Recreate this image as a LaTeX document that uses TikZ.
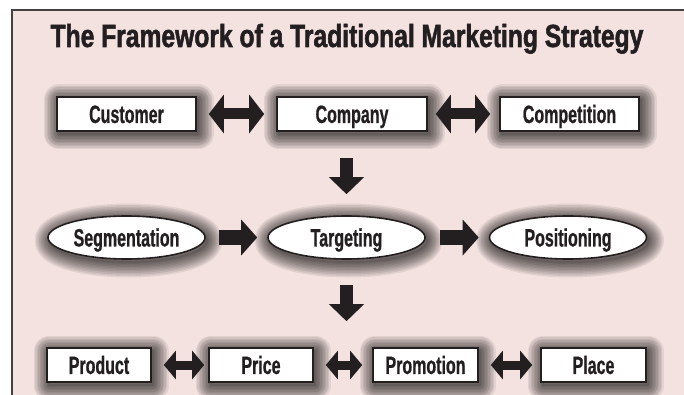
\documentclass[tikz,border=0pt]{standalone}
\usepackage{fontspec}
\setmainfont{Liberation Sans}
% condensed heavy sans for the title and the labels
\newfontfamily\titlefont[FakeStretch=0.77,FakeBold=1.6]{Liberation Sans}
\newfontfamily\labelfont[FakeStretch=0.64,FakeBold=0.8]{Liberation Sans}
\usetikzlibrary{shapes.geometric, arrows.meta}

\definecolor{bgpink}{RGB}{244,226,224}
\definecolor{ink}{RGB}{35,31,32}

\tikzset{
  % soft dark halo built from stacked translucent strokes
  halo/.style={preaction={draw=black, draw opacity=0.075, line width=#1,
      line join=round, transform canvas={xshift=2pt, yshift=-3pt}}},
  glow/.style={halo=31pt, halo=28pt, halo=25pt, halo=22pt, halo=19pt,
      halo=16pt, halo=13pt, halo=10pt, halo=7pt, halo=4pt, halo=2pt},
  labeltext/.style={font=\labelfont\bfseries\fontsize{25}{25}\selectfont,
      text=ink, text height=17.9pt, text depth=0pt, inner sep=0pt},
  factorbox/.style={rectangle, glow, draw=ink, line width=1.6pt, fill=white,
      minimum height=34pt, labeltext},
  stageoval/.style={ellipse, glow, draw=ink, line width=1.6pt, fill=white,
      minimum width=157pt, minimum height=43pt, labeltext},
  bigtwoway/.style={draw=ink, line width=11pt,
      {Triangle[width=38pt,length=15pt]}-{Triangle[width=38pt,length=15pt]}},
  smalltwoway/.style={draw=ink, line width=9pt,
      {Triangle[width=28pt,length=12pt]}-{Triangle[width=28pt,length=12pt]}},
  sideflow/.style={draw=ink, line width=15pt,
      -{Triangle[width=35pt,length=16pt]}},
  downflow/.style={draw=ink, line width=13pt,
      -{Triangle[width=34pt,length=17pt]}},
}

\begin{document}
\begin{tikzpicture}[x=1pt, y=-1pt]
  \useasboundingbox (0,0) rectangle (684,395);

  % page and framed panel
  \fill[white] (0,0) rectangle (684,395);
  \fill[bgpink] (12,10) rectangle (684,395);
  \draw[ink!85, line width=1.2pt] (12,395) -- (12,10) -- (684,10);

  % title
  \node[anchor=base, inner sep=0pt, text=ink,
        font=\titlefont\bfseries\fontsize{32}{32}\selectfont]
        (title) at (347,47) {The Framework of a Traditional Marketing Strategy};

  % the three Cs
  \node[factorbox, minimum width=139pt] (customer)    at (126.5,114) {Customer};
  \node[factorbox, minimum width=150pt] (company)     at (352,114)   {Company};
  \node[factorbox, minimum width=139pt] (competition) at (569.5,114) {Competition};

  % segmentation, targeting, positioning
  \node[stageoval] (segmentation) at (126.5,237.5) {Segmentation};
  \node[stageoval] (targeting)    at (346.5,237.5) {Targeting};
  \node[stageoval] (positioning)  at (568,237.5)   {Positioning};

  % the four Ps
  \node[factorbox, minimum width=104pt] (product)   at (99,365)    {Product};
  \node[factorbox, minimum width=104pt] (price)     at (261,365)   {Price};
  \node[factorbox, minimum width=105pt] (promotion) at (425.5,365) {Promotion};
  \node[factorbox, minimum width=105pt] (place)     at (593.5,365) {Place};

  \coordinate (mixtop) at (targeting.south |- price.north);

  % connectors
  \draw[bigtwoway, shorten <=12pt, shorten >=12pt] (customer) -- (company);
  \draw[bigtwoway, shorten <=8pt,  shorten >=9pt]  (company) -- (competition);

  \draw[downflow, shorten <=26pt, shorten >=21pt]
       (company.south -| targeting.north) -- (targeting.north);

  \draw[sideflow, shorten <=13pt, shorten >=10pt] (segmentation) -- (targeting);
  \draw[sideflow, shorten <=14pt, shorten >=10pt] (targeting) -- (positioning);

  \draw[downflow, shorten <=25pt, shorten >=26pt] (targeting.south) -- (mixtop);

  \draw[smalltwoway, shorten <=12pt, shorten >=4pt]  (product) -- (price);
  \draw[smalltwoway, shorten <=12pt, shorten >=10pt] (price) -- (promotion);
  \draw[smalltwoway, shorten <=12pt, shorten >=8pt]  (promotion) -- (place);
\end{tikzpicture}
\end{document}
